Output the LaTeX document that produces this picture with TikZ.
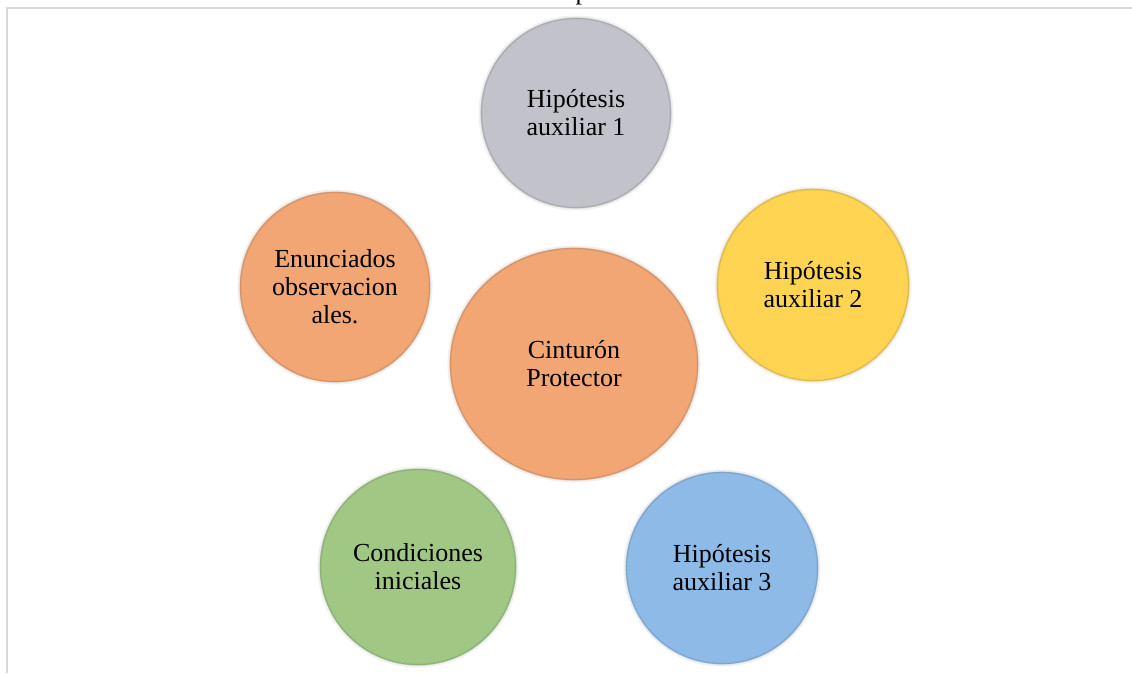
\documentclass[tikz,border=0pt]{standalone}
\usepackage{fontspec}
\setmainfont{Liberation Serif}
\usetikzlibrary{shapes.geometric,calc}
\definecolor{cgray}{RGB}{194,194,202}
\definecolor{cyellow}{RGB}{254,212,82}
\definecolor{corange}{RGB}{242,166,116}
\definecolor{cgreen}{RGB}{160,200,132}
\definecolor{cblue}{RGB}{142,186,232}
\definecolor{framegray}{RGB}{217,217,217}
\tikzset{
  ball/.style={circle, inner sep=0pt, minimum size=#1, align=center,
    font=\fontsize{26}{28}\selectfont, text=black},
  bevel/.style={fill=#1, draw=#1!70!black, draw opacity=0.35, line width=1.2pt,
    preaction={draw=#1!60!black, draw opacity=0.10, line width=5pt},
    path picture={
      \path let \p1=($(path picture bounding box.north east)-(path picture bounding box.center)$) in
        [draw=#1!65!black, draw opacity=0.10, line width=14pt]
          (path picture bounding box.center) ellipse [x radius=\x1, y radius=\y1]
        [draw=#1!65!black, draw opacity=0.12, line width=7pt]
          (path picture bounding box.center) ellipse [x radius=\x1, y radius=\y1]
        [draw=#1!65!black, draw opacity=0.15, line width=3pt]
          (path picture bounding box.center) ellipse [x radius=\x1, y radius=\y1];
    }},
  frameline/.style={draw=framegray, line width=2pt},
}
\begin{document}
\begin{tikzpicture}[x=1pt,y=-1pt]
\useasboundingbox (0,0) rectangle (1132,673);
\fill[white] (0,0) rectangle (1132,673);
% frame
\coordinate (ftl) at (7,8);
\coordinate (ftr) at (1132,8);
\coordinate (fbl) at (7,673);
\draw[frameline] (ftr) -- (ftl) -- (fbl);
% cut-off text at the top
\node[anchor=base, inner sep=0pt, font=\fontsize{26}{28}\selectfont] (toptext) at (582,-1) {p};
% circles
\node[ball=190pt, bevel=cgray] (h1) at (576,113) {Hipótesis\\auxiliar 1};
\node[ball=192pt, bevel=cyellow] (h2) at (813,285) {Hipótesis\\auxiliar 2};
\node[ball=190pt, bevel=corange] (en) at (335,287) {Enunciados\\observacion\\ales.};
\node[ellipse, inner sep=0pt, minimum width=248pt, minimum height=232pt, align=center,
      font=\fontsize{26}{28}\selectfont, bevel=corange] (cp) at (574,364) {Cinturón\\Protector};
\node[ball=196pt, bevel=cgreen] (ci) at (418,567) {Condiciones\\iniciales};
\node[ball=192pt, bevel=cblue] (h3) at (722,568) {Hipótesis\\auxiliar 3};
\end{tikzpicture}
\end{document}
